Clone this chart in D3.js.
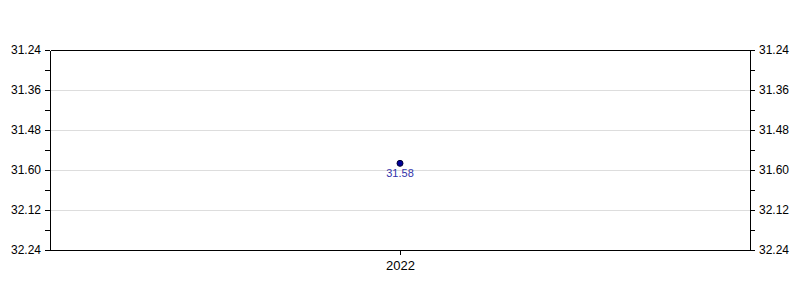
<!DOCTYPE html>
<html>
<head>
<meta charset="utf-8">
<script src="https://cdn.jsdelivr.net/npm/d3@7"></script>
<style>
  body { margin: 0; background: #fff; }
  text { font-family: "Liberation Sans", Arial, sans-serif; }
</style>
</head>
<body>
<div id="chart"></div>
<script>
// data: values are times written as minutes.seconds
var years = ["2022"];
var times = ["31.58"];
var tickLabels = ["31.24", "31.36", "31.48", "31.60", "32.12", "32.24"];

var width = 800, height = 300;
var margin = {top: 50, right: 50, bottom: 50, left: 50};

// "31.58" -> seconds
function toSec(s) {
    var p = s.split(".");
    return +p[0] * 60 + +p[1];
}

var tickSecs = tickLabels.map(toSec);

var svg = d3.select("#chart").append("svg")
    .attr("width", width)
    .attr("height", height);

var x = d3.scalePoint()
    .domain(years)
    .range([margin.left, width - margin.right])
    .padding(0.5);

var y = d3.scaleLinear()
    .domain([tickSecs[0], tickSecs[tickSecs.length - 1]])
    .range([margin.top, height - margin.bottom]);

var minorSecs = d3.range(tickSecs[0], tickSecs[tickSecs.length - 1] + 1, 6);

// grid
svg.append("g")
    .selectAll("line")
    .data(tickSecs.slice(1, -1))
    .enter().append("line")
    .attr("x1", margin.left)
    .attr("x2", width - margin.right)
    .attr("y1", d => y(d))
    .attr("y2", d => y(d))
    .attr("stroke", "#dddddd")
    .attr("stroke-width", 1)
    .attr("shape-rendering", "crispEdges");

function fmt(d) { return tickLabels[tickSecs.indexOf(d)]; }

var leftAxis = svg.append("g")
    .attr("transform", "translate(" + margin.left + ",0)")
    .call(d3.axisLeft(y).tickValues(minorSecs).tickSize(5).tickSizeOuter(0).tickPadding(4)
        .tickFormat(d => tickSecs.indexOf(d) >= 0 ? fmt(d) : ""));

var rightAxis = svg.append("g")
    .attr("transform", "translate(" + (width - margin.right) + ",0)")
    .call(d3.axisRight(y).tickValues(minorSecs).tickSize(5).tickSizeOuter(0).tickPadding(4)
        .tickFormat(d => tickSecs.indexOf(d) >= 0 ? fmt(d) : ""));

var bottomAxis = svg.append("g")
    .attr("transform", "translate(0," + (height - margin.bottom) + ")")
    .call(d3.axisBottom(x).tickSize(5).tickSizeOuter(0).tickPadding(6));

var topAxis = svg.append("g")
    .attr("transform", "translate(0," + margin.top + ")")
    .call(d3.axisTop(x).tickSize(0).tickFormat(""));

[leftAxis, rightAxis, bottomAxis, topAxis].forEach(function (g) {
    g.selectAll("path").attr("stroke", "#000").attr("shape-rendering", "crispEdges");
    g.selectAll("line").attr("stroke", "#000").attr("shape-rendering", "crispEdges");
    g.selectAll("text").attr("fill", "#000").style("font-size", "12px")
        .style("font-family", "'Liberation Sans', Arial, sans-serif");
});
bottomAxis.selectAll("text").style("font-size", "13px");

// points
svg.append("g")
    .selectAll("circle")
    .data(years)
    .enter().append("circle")
    .attr("cx", d => x(d))
    .attr("cy", (d, i) => y(toSec(times[i])))
    .attr("r", 3)
    .attr("fill", "#000099")
    .attr("stroke", "#000033")
    .attr("stroke-width", 1);

svg.append("g")
    .selectAll("text")
    .data(years)
    .enter().append("text")
    .attr("x", d => x(d))
    .attr("y", (d, i) => y(toSec(times[i])) + 14)
    .attr("text-anchor", "middle")
    .attr("fill", "#3333aa")
    .style("font-size", "11px")
    .text((d, i) => times[i]);
</script>
</body>
</html>
